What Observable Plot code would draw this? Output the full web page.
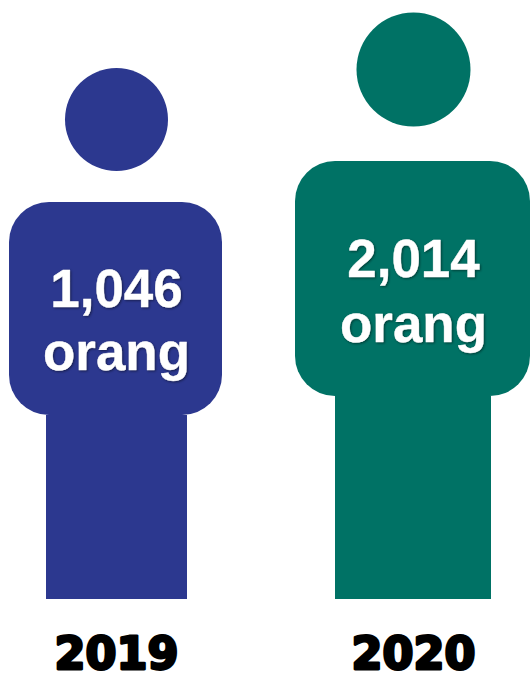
<!DOCTYPE html>
<html>
<head>
<meta charset="utf-8">
<script src="https://cdn.jsdelivr.net/npm/d3@7"></script>
<script src="https://cdn.jsdelivr.net/npm/@observablehq/plot@0.6"></script>
<style>
html,body{margin:0;padding:0;background:#fff;}
svg{display:block;}
.count text{filter:drop-shadow(1.5px 1.5px 1px rgba(0,0,0,.45));}
</style>
</head>
<body>
<div id="chart"></div>
<script>
const years = ["2019", "2020"];
const counts = ["1,046", "2,014"];
const unit = "orang";
const colors = ["#2c388f", "#007265"];
const headX = [116, 413];
const headY = [119, 69];
const headR = [51.5, 57];
const bodyLeft = [9, 295];
const bodyRight = [222, 530];
const bodyTop = [202, 161];
const bodyBottom = [415, 396];
const legLeft = [46, 335];
const legRight = [187, 491];
const legBottom = [599, 599];
const countY = [289.5, 260];
const unitY = [353, 325];
const yearY = [654.5, 654.5];

const rows = years.map((year, i) => ({
  year, count: counts[i], color: colors[i],
  headX: headX[i], headY: headY[i], headR: headR[i],
  bodyLeft: bodyLeft[i], bodyRight: bodyRight[i], bodyTop: bodyTop[i], bodyBottom: bodyBottom[i],
  legLeft: legLeft[i], legRight: legRight[i], legBottom: legBottom[i],
  countY: countY[i], unitY: unitY[i], yearY: yearY[i]
}));

const chart = Plot.plot({
  width: 530, height: 673,
  margin: 0,
  x: {domain: [0, 530], range: [0, 530], axis: null},
  y: {domain: [0, 673], range: [0, 673], axis: null},
  r: {type: "identity"},
  color: {type: "identity"},
  style: {background: "#fff", fontFamily: "'Liberation Sans', Arial, sans-serif"},
  marks: [
    Plot.rect(rows, {x1: "legLeft", x2: "legRight", y1: "bodyBottom", y2: "legBottom", fill: "color"}),
    Plot.rect(rows, {x1: "bodyLeft", x2: "bodyRight", y1: "bodyTop", y2: "bodyBottom", fill: "color", rx: 40}),
    Plot.dot(rows, {x: "headX", y: "headY", r: "headR", fill: "color", stroke: null}),
    Plot.text(rows, {x: "headX", y: "countY", text: "count", fill: "white", stroke: "white", strokeWidth: 0.4, fontSize: 53, fontWeight: 700, className: "count"}),
    Plot.text(rows, {x: "headX", y: "unitY", text: () => unit, fill: "white", stroke: "white", strokeWidth: 0.4, fontSize: 53, fontWeight: 700, className: "count"}),
    Plot.text(rows, {x: "headX", y: "yearY", text: "year", fill: "black", stroke: "black", strokeWidth: 2.8, fontFamily: "'DejaVu Sans', sans-serif", fontSize: 44.5, fontWeight: 700})
  ]
});
document.getElementById("chart").append(chart);
</script>
</body>
</html>
